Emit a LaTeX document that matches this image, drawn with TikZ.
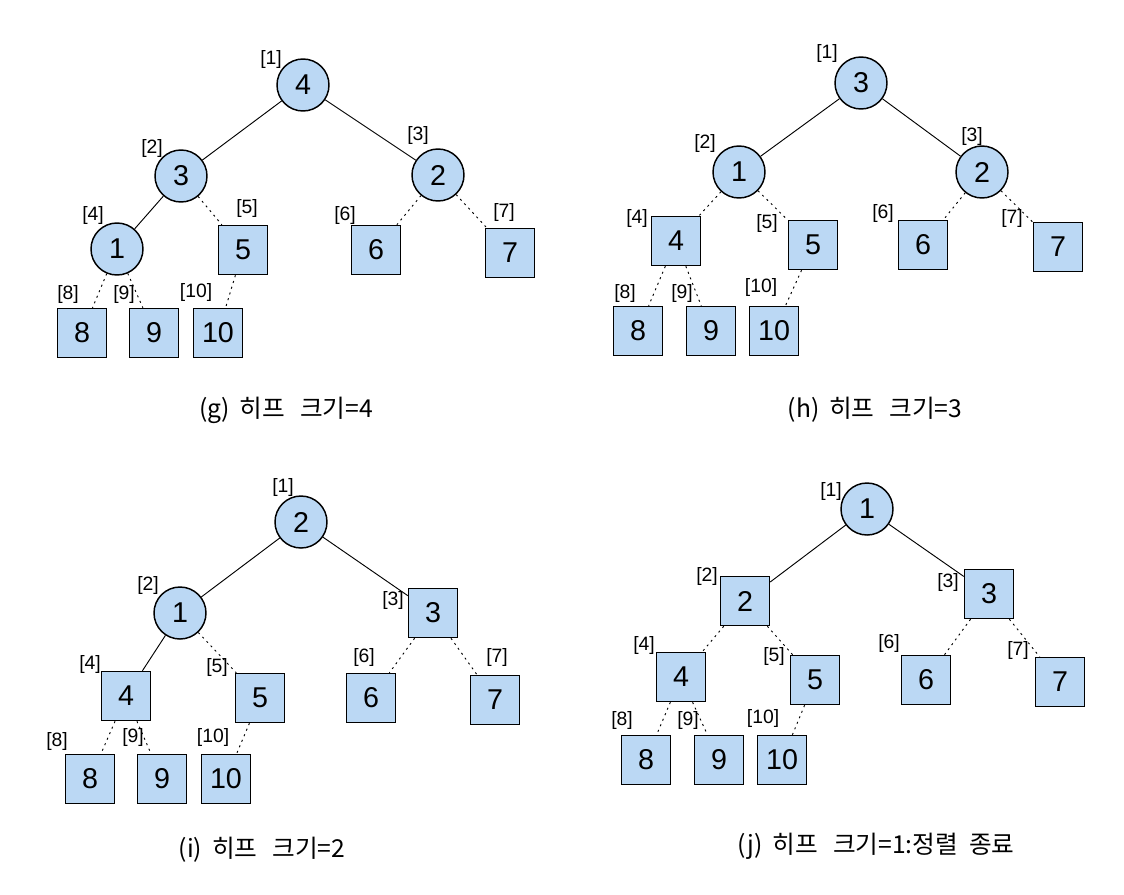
\documentclass[tikz,border=0pt]{standalone}
\usepackage{fontspec}
\setmainfont{Liberation Sans}
\newfontfamily\krfont{Noto Sans CJK KR}
\definecolor{nodeblue}{RGB}{187,216,244}
\begin{document}
\begin{tikzpicture}[x=0.75pt,y=-0.75pt,
 heapc/.style={circle,draw,line width=1.1pt,fill=nodeblue,minimum size=39pt,inner sep=0pt,font=\fontsize{21.5}{21.5}\selectfont},
 sortb/.style={rectangle,draw,line width=1.1pt,fill=nodeblue,minimum size=36.75pt,inner sep=0pt,font=\fontsize{21.5}{21.5}\selectfont},
 idx/.style={inner sep=0pt,font=\fontsize{14.5}{14.5}\selectfont},
 captext/.style={inner sep=0pt,font=\krfont\fontsize{18.5}{18.5}\selectfont},
 tree/.style={line width=0.7pt},
 done/.style={line width=0.7pt,dash pattern=on 1.5pt off 3pt}]
\useasboundingbox (0,0) rectangle (1124,894);

% ---------- (g)
\node[heapc] (g1) at (303,85) {4};
\node[heapc] (g2) at (181,176) {3};
\node[heapc] (g3) at (438,175) {2};
\node[heapc] (g4) at (117,249) {1};
\node[sortb] (g5) at (243,250) {5};
\node[sortb] (g6) at (376,250) {6};
\node[sortb] (g7) at (510,253) {7};
\node[sortb] (g8) at (82,333) {8};
\node[sortb] (g9) at (154,333) {9};
\node[sortb] (g10) at (218,333) {10};
\node[idx] (gl1) at (271,59) {[1]};
\node[idx] (gl2) at (152,148) {[2]};
\node[idx] (gl3) at (418,135) {[3]};
\node[idx] (gl4) at (93,215) {[4]};
\node[idx] (gl5) at (247,208) {[5]};
\node[idx] (gl6) at (345,215) {[6]};
\node[idx] (gl7) at (504,212) {[7]};
\node[idx] (gl8) at (68,294) {[8]};
\node[idx] (gl9) at (124,294) {[9]};
\node[idx] (gl10) at (196,292) {[10]};
\draw[tree] (g1) -- (g2);
\draw[tree] (g1) -- (g3);
\draw[tree] (g2) -- (g4);
\draw[done] (g2) -- (g5);
\draw[done] (g3) -- (g6);
\draw[done] (g3) -- (g7);
\draw[done] (g4) -- (g8);
\draw[done] (g4) -- (g9);
\draw[done] (g5) -- (g10);
\node[captext] (gcap) at (286,410) {(g)\hspace{0.4em}히프\hspace{0.6em}크기=4};

% ---------- (h)
\node[heapc] (h1) at (861,83) {3};
\node[heapc] (h2) at (739,172) {1};
\node[heapc] (h3) at (982,172) {2};
\node[sortb] (h4) at (676,241) {4};
\node[sortb] (h5) at (813,245) {5};
\node[sortb] (h6) at (923,245) {6};
\node[sortb] (h7) at (1058,247) {7};
\node[sortb] (h8) at (638,331) {8};
\node[sortb] (h9) at (711,331) {9};
\node[sortb] (h10) at (774,331) {10};
\node[idx] (hl1) at (827,53) {[1]};
\node[idx] (hl2) at (705,143) {[2]};
\node[idx] (hl3) at (972,136) {[3]};
\node[idx] (hl4) at (637,218) {[4]};
\node[idx] (hl5) at (767,223) {[5]};
\node[idx] (hl6) at (883,213) {[6]};
\node[idx] (hl7) at (1012,218) {[7]};
\node[idx] (hl8) at (625,293) {[8]};
\node[idx] (hl9) at (682,293) {[9]};
\node[idx] (hl10) at (761,287) {[10]};
\draw[tree] (h1) -- (h2);
\draw[tree] (h1) -- (h3);
\draw[done] (h2) -- (h4);
\draw[done] (h2) -- (h5);
\draw[done] (h3) -- (h6);
\draw[done] (h3) -- (h7);
\draw[done] (h4) -- (h8);
\draw[done] (h4) -- (h9);
\draw[done] (h5) -- (h10);
\node[captext] (hcap) at (875,410) {(h)\hspace{0.4em}히프\hspace{0.6em}크기=3};

% ---------- (i)
\node[heapc] (i1) at (301,522) {2};
\node[heapc] (i2) at (180,613) {1};
\node[sortb] (i3) at (433,613) {3};
\node[sortb] (i4) at (126,696) {4};
\node[sortb] (i5) at (260,698) {5};
\node[sortb] (i6) at (371,698) {6};
\node[sortb] (i7) at (495,700) {7};
\node[sortb] (i8) at (90,779) {8};
\node[sortb] (i9) at (162,779) {9};
\node[sortb] (i10) at (226,779) {10};
\node[idx] (il1) at (283,487) {[1]};
\node[idx] (il2) at (148,585) {[2]};
\node[idx] (il3) at (393,600) {[3]};
\node[idx] (il4) at (90,664) {[4]};
\node[idx] (il5) at (217,667) {[5]};
\node[idx] (il6) at (364,657) {[6]};
\node[idx] (il7) at (497,657) {[7]};
\node[idx] (il8) at (57,741) {[8]};
\node[idx] (il9) at (133,737) {[9]};
\node[idx] (il10) at (213,737) {[10]};
\draw[tree] (i1) -- (i2);
\draw[tree] (i1) -- (i3);
\draw[tree] (i2) -- (i4);
\draw[done] (i2) -- (i5);
\draw[done] (i3) -- (i6);
\draw[done] (i3) -- (i7);
\draw[done] (i4) -- (i8);
\draw[done] (i4) -- (i9);
\draw[done] (i5) -- (i10);
\node[captext] (icap) at (262,850) {(i)\hspace{0.4em}히프\hspace{0.6em}크기=2};

% ---------- (j)
\node[heapc] (j1) at (867,509) {1};
\node[sortb] (j2) at (745,601) {2};
\node[sortb] (j3) at (989,594) {3};
\node[sortb] (j4) at (681,677) {4};
\node[sortb] (j5) at (815,680) {5};
\node[sortb] (j6) at (926,680) {6};
\node[sortb] (j7) at (1060,682) {7};
\node[sortb] (j8) at (646,760) {8};
\node[sortb] (j9) at (719,760) {9};
\node[sortb] (j10) at (782,760) {10};
\node[idx] (jl1) at (831,491) {[1]};
\node[idx] (jl2) at (707,576) {[2]};
\node[idx] (jl3) at (948,582) {[3]};
\node[idx] (jl4) at (644,645) {[4]};
\node[idx] (jl5) at (774,656) {[5]};
\node[idx] (jl6) at (889,643) {[6]};
\node[idx] (jl7) at (1018,650) {[7]};
\node[idx] (jl8) at (622,720) {[8]};
\node[idx] (jl9) at (688,720) {[9]};
\node[idx] (jl10) at (763,718) {[10]};
\draw[tree] (j1) -- (j2);
\draw[tree] (j1) -- (j3);
\draw[done] (j2) -- (j4);
\draw[done] (j2) -- (j5);
\draw[done] (j3) -- (j6);
\draw[done] (j3) -- (j7);
\draw[done] (j4) -- (j8);
\draw[done] (j4) -- (j9);
\draw[done] (j5) -- (j10);
\node[captext] (jcap) at (876,846) {(j)\hspace{0.4em}히프\hspace{0.6em}크기=1:정렬\hspace{0.45em}종료};
\end{tikzpicture}
\end{document}
